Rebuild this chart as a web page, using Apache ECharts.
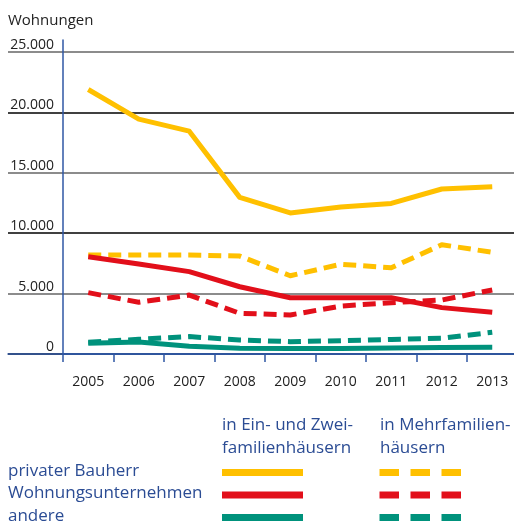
<!DOCTYPE html>
<html><head><meta charset="utf-8">
<script src="https://cdn.jsdelivr.net/npm/echarts@6/dist/echarts.min.js"></script>
<style>html,body{margin:0;padding:0;background:#fff}#c{width:514px;height:524px}</style>
</head><body><div id="c"></div>
<script>
const years = ['2005','2006','2007','2008','2009','2010','2011','2012','2013'];
const privEin  = [21900,19450,18450,12970,11680,12170,12470,13660,13850];
const privMehr = [8200,8200,8200,8110,6480,7430,7140,9050,8420];
const wuEin    = [8060,7450,6820,5570,4660,4660,4660,3840,3450];
const wuMehr   = [5080,4280,4880,3370,3230,3970,4250,4470,5300];
const andEin   = [900,1000,650,480,450,460,500,540,560];
const andMehr  = [970,1220,1440,1160,1020,1100,1210,1300,1800];
const yMax = 25000, yStep = 5000;
const rowLabels = ['privater Bauherr','Wohnungsunternehmen','andere'];
const colHeads = [['in Ein- und Zwei-','familienhäusern'],['in Mehrfamilien-','häusern']];

const YEL='#FFC000', RED='#E20F1A', GRN='#00927C';
const AX='#2F57A4', TXT='#2B4C94';
const FF='"Open Sans", sans-serif';
const fmt = v => String(v).replace(/\B(?=(\d{3})+(?!\d))/g,'.');

function ser(name,data,color,dashed){
  return {name,type:'line',xAxisIndex:1,yAxisIndex:1,data,showSymbol:false,symbol:'none',
    lineStyle:{color,width:5,type:dashed?[13,7]:'solid',cap:'butt',join:'round'},z:dashed?3:4};
}

const chart = echarts.init(document.getElementById('c'),null,{renderer:'canvas'});
const legendG = [];
const rowY=[472.5,495,517.5];
const rowT=[462.5,485,508];
const cols=[YEL,RED,GRN];
rowLabels.forEach((t,i)=>{
  legendG.push({type:'text',left:8,top:rowT[i],style:{text:t,fill:TXT,font:'17px '+FF}});
  legendG.push({type:'line',shape:{x1:222,y1:rowY[i],x2:303,y2:rowY[i]},style:{stroke:cols[i],lineWidth:7}});
  legendG.push({type:'line',shape:{x1:379.5,y1:rowY[i],x2:461,y2:rowY[i]},style:{stroke:cols[i],lineWidth:7,lineDash:[19.5,11.5]}});
});
colHeads.forEach((h,j)=>{
  const x=j===0?222:380;
  legendG.push({type:'text',left:x,top:416.5,style:{text:h[0],fill:TXT,font:'17px '+FF}});
  legendG.push({type:'text',left:x,top:439.5,style:{text:h[1],fill:TXT,font:'17px '+FF}});
});

chart.setOption({
  animation:false,
  backgroundColor:'#fff',
  title:{text:'Wohnungen',left:8,top:13.5,padding:0,textStyle:{fontFamily:FF,fontSize:15,fontWeight:'normal',color:'#222'}},
  grid:[
    {left:8,right:0,top:52,bottom:170,outerBoundsMode:'none'},
    {left:63,width:454.5,top:40,bottom:170,outerBoundsMode:'none'}
  ],
  xAxis:[
    {gridIndex:0,type:'category',data:years,axisLine:{lineStyle:{color:AX,width:1.5}},axisTick:{show:false},axisLabel:{show:false}},
    {gridIndex:1,type:'category',data:years,boundaryGap:true,
     axisLine:{show:true,lineStyle:{color:AX,width:1.5}},
     axisTick:{show:true,length:8,lineStyle:{color:AX,width:1.5}},
     axisLabel:{margin:21,fontFamily:FF,fontSize:14,color:'#222'}}
  ],
  yAxis:[
    {gridIndex:0,type:'value',min:0,max:yMax,interval:yStep,
     axisLine:{show:false},axisTick:{show:false},
     splitLine:{show:true,lineStyle:{color:['#000','#666'],width:1.5}},
     axisLabel:{inside:true,align:'right',verticalAlign:'bottom',margin:46,fontFamily:FF,fontSize:14,color:'#222',formatter:fmt}},
    {gridIndex:1,type:'value',min:0,max:26000,
     axisLine:{show:true,lineStyle:{color:AX,width:1.5}},axisTick:{show:false},axisLabel:{show:false},splitLine:{show:false}}
  ],
  series:[
    ser('privat EZ',privEin,YEL,false),
    ser('privat MF',privMehr,YEL,true),
    ser('WU EZ',wuEin,RED,false),
    ser('WU MF',wuMehr,RED,true),
    ser('andere EZ',andEin,GRN,false),
    ser('andere MF',andMehr,GRN,true)
  ],
  graphic:legendG
});
</script></body></html>
